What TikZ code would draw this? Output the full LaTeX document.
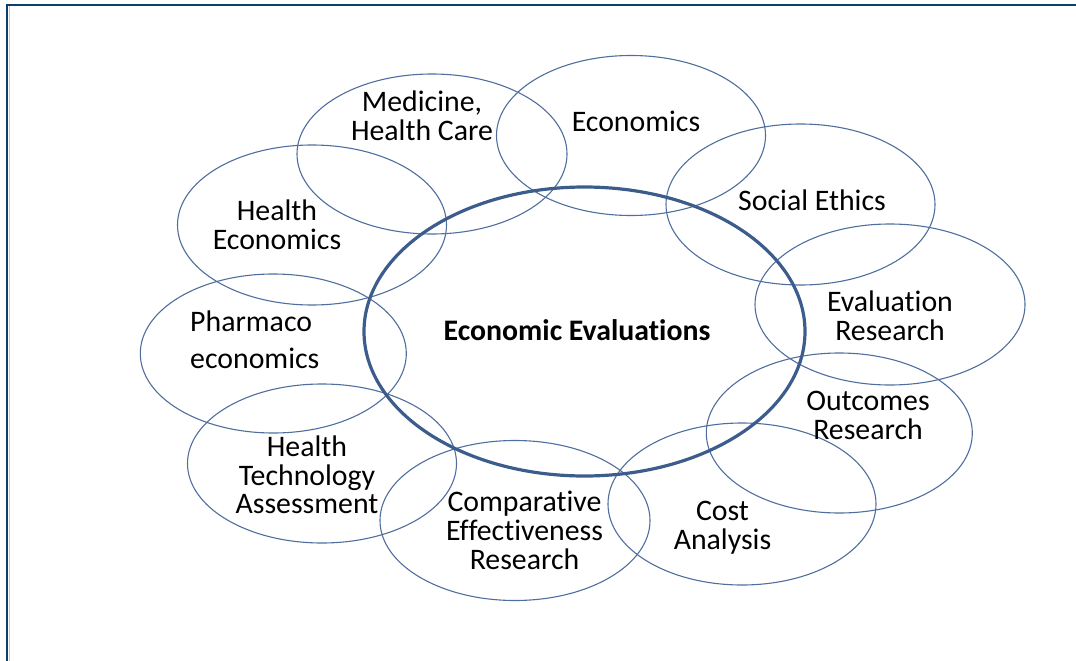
\documentclass[tikz,border=0pt]{standalone}
\usepackage{fontspec}
\setmainfont[Ligatures=NoCommon]{Carlito}
\usetikzlibrary{shapes.geometric}
\definecolor{ringthin}{RGB}{79,110,158}
\definecolor{ringthick}{RGB}{60,93,140}
\definecolor{framec}{RGB}{14,62,108}
\definecolor{frameg}{RGB}{200,200,200}
\tikzset{
  ring/.style={ellipse, draw=ringthin, line width=1.1pt, inner sep=0pt},
  mainring/.style={ellipse, draw=ringthick, line width=3.2pt, inner sep=0pt},
  lbl/.style={anchor=base, inner sep=0pt, font=\fontsize{29.8}{28}\selectfont},
}
\newcommand{\lines}[1]{\renewcommand{\arraystretch}{1}\setlength{\tabcolsep}{0pt}\begin{tabular}[t]{c}#1\end{tabular}}
\newcommand{\llines}[1]{\renewcommand{\arraystretch}{1}\setlength{\tabcolsep}{0pt}\begin{tabular}[t]{l}#1\end{tabular}}
\begin{document}
\begin{tikzpicture}[x=1pt,y=-1pt]
\useasboundingbox (0,0) rectangle (1076,661);
% frame
\draw[frameg, line width=1pt] (9.5,6) -- (9.5,661);
\draw[framec, line width=2.6pt] (7,4.5) -- (7,661);
\draw[framec, line width=2.6pt] (5.7,5) -- (1076,5);
% outer rings
\node[ring, minimum width=270, minimum height=160] (e1) at (432,154) {};
\node[ring, minimum width=269, minimum height=160] (e2) at (631,135.5) {};
\node[ring, minimum width=269, minimum height=161] (e3) at (800.5,204.5) {};
\node[ring, minimum width=270, minimum height=161] (e4) at (890,304.5) {};
\node[ring, minimum width=266, minimum height=160] (e5) at (839.3,433) {};
\node[ring, minimum width=268, minimum height=162] (e6) at (742,504) {};
\node[ring, minimum width=270, minimum height=160] (e7) at (515,520.5) {};
\node[ring, minimum width=269, minimum height=159] (e8) at (322,463.5) {};
\node[ring, minimum width=266, minimum height=159] (e9) at (273.3,353.5) {};
\node[ring, minimum width=269, minimum height=160] (e10) at (312,225) {};
% central ring
\node[mainring, minimum width=441, minimum height=289] (c) at (584.5,331.5) {};
% labels
\node[lbl] (t1) at (422,111.7) {\lines{Medicine,\\Health Care}};
\node[lbl] (t2) at (636,131.7) {Economics};
\node[lbl] (t3) at (812,210) {Social Ethics};
\node[lbl] (t4) at (890,311.7) {\lines{Evaluation\\Research}};
\node[lbl] (t5) at (868,410.7) {\lines{Outcomes\\Research}};
\node[lbl] (t6) at (722.5,520) {\lines{Cost\\Analysis}};
\node[lbl] (t7) at (524.5,511.7) {\lines{Comparative\\Effectiveness\\Research}};
\node[lbl] (t8) at (307,456.7) {\lines{Health\\Technology\\Assessment}};
\node[lbl, anchor=base west] (t9) at (190,331.7) {\llines{Pharmaco\\[8pt]economics}};
\node[lbl] (t10) at (277,220.7) {\lines{Health\\Economics}};
\node[lbl, font=\fontsize{29.8}{28}\selectfont\bfseries] (tc) at (577,340) {Economic Evaluations};
\end{tikzpicture}
\end{document}
